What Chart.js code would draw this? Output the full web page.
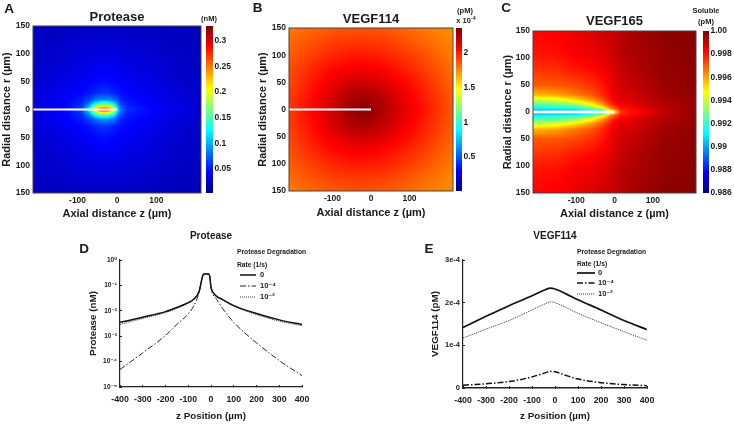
<!DOCTYPE html>
<html>
<head>
<meta charset="utf-8">
<script src="https://cdn.jsdelivr.net/npm/chart.js@4"></script>
<style>
  html, body { margin: 0; padding: 0; background: #fff; }
  body { width: 734px; height: 424px; position: relative; overflow: hidden; font-family: "Liberation Sans", sans-serif; filter: blur(0.35px); }
  canvas { position: absolute; }
  .lbl { position: absolute; font-weight: bold; color: #1a1a1a; white-space: nowrap; transform: translate(-50%, -50%); line-height: 1; }
  .lbl sup { font-size: 70%; line-height: 0; }
</style>
</head>
<body>
<script>
// ---- heat map grids (z across, |r| down) ----
const proteaseZ = [-215, -130, -90, -70, -55, -40, -25, -10, 0, 10, 25, 50, 90, 130, 215];
const proteaseR = [0, 4, 8, 12, 18, 30, 50, 90, 150];
const proteaseField = [
  [.032, .045, .065, .12, .24, .28, .28, .24, .13, .08, .06, .052, .045, .038, .028],
  [.032, .045, .062, .11, .195, .23, .23, .195, .115, .075, .057, .05, .044, .038, .028],
  [.032, .044, .058, .095, .15, .178, .178, .15, .10, .068, .054, .048, .043, .037, .028],
  [.032, .044, .055, .08, .115, .135, .135, .115, .085, .062, .052, .047, .042, .036, .028],
  [.032, .043, .052, .065, .08, .088, .088, .08, .07, .055, .048, .045, .04, .035, .028],
  [.03, .04, .045, .05, .055, .06, .06, .055, .05, .048, .045, .042, .038, .033, .026],
  [.028, .035, .04, .042, .045, .047, .047, .045, .044, .042, .04, .038, .035, .03, .025],
  [.025, .03, .033, .034, .035, .035, .035, .035, .035, .034, .033, .032, .03, .027, .024],
  [.022, .024, .025, .025, .025, .025, .025, .025, .025, .025, .025, .024, .024, .023, .021]
];

const vegf114Z = [-215, -150, -100, -50, -20, 20, 60, 100, 150, 215];
const vegf114R = [0, 25, 50, 75, 100, 125, 150];
const vegf114Field = [
  [1.93, 2.07, 2.18, 2.30, 2.34, 2.28, 2.18, 2.10, 2.00, 1.86],
  [1.92, 2.05, 2.16, 2.26, 2.28, 2.24, 2.16, 2.08, 1.98, 1.85],
  [1.90, 2.02, 2.11, 2.17, 2.18, 2.15, 2.10, 2.04, 1.95, 1.83],
  [1.88, 1.98, 2.05, 2.08, 2.09, 2.07, 2.03, 1.98, 1.91, 1.81],
  [1.85, 1.93, 1.98, 2.01, 2.01, 2.00, 1.97, 1.93, 1.87, 1.78],
  [1.82, 1.88, 1.92, 1.94, 1.94, 1.93, 1.91, 1.87, 1.82, 1.75],
  [1.78, 1.83, 1.86, 1.88, 1.88, 1.87, 1.85, 1.82, 1.78, 1.74]
];

const vegf165Z = [-215, -150, -100, -60, -30, -10, 0, 15, 40, 80, 130, 215];
const vegf165R = [0, 4, 8, 14, 22, 32, 50, 80, 110, 150];
const vegf165Field = [
  [.9885, .9885, .989, .9895, .9905, .9925, .9945, .9975, .998, .9985, .9992, .9997],
  [.9905, .9905, .9908, .9915, .9925, .9958, .9963, .9977, .998, .9985, .9992, .9997],
  [.9915, .9917, .992, .9932, .995, .9966, .9972, .998, .9983, .9988, .9993, .9997],
  [.9925, .9928, .9934, .9948, .9962, .9975, .998, .9983, .9985, .9989, .9993, .9997],
  [.9938, .9943, .9952, .9961, .9972, .998, .9984, .9986, .9987, .999, .9994, .9997],
  [.9957, .996, .9966, .9971, .9977, .9983, .9986, .9987, .9988, .9991, .9995, .9998],
  [.997, .9971, .9973, .9976, .998, .9984, .9987, .9988, .999, .9993, .9996, .9998],
  [.9976, .9977, .998, .9982, .9984, .9986, .9988, .999, .9992, .9994, .9997, .9998],
  [.998, .9981, .9984, .9985, .9987, .9989, .999, .9992, .9993, .9995, .9997, .9999],
  [.9982, .9983, .9985, .9987, .9989, .999, .9991, .9992, .9994, .9996, .9998, .9999]
];

const needleZ = [-213, 0];
const needleR = [0, 0];
const heatXTicks = [-100, 0, 100];
const heatYTicks = [-150, -100, -50, 0, 50, 100, 150];

const proteaseBar = [0.05, 0.1, 0.15, 0.2, 0.25, 0.3];
const vegf114Bar = [0.5, 1, 1.5, 2];
const vegf165Bar = [0.986, 0.988, 0.99, 0.992, 0.994, 0.996, 0.998, 1];
const vegf165BarLabels = ["0.986", "0.988", "0.99", "0.992", "0.994", "0.996", "0.998", "1.00"];

// ---- line plots ----
const legendNames = ["0", "10\u207B\u2074", "10\u207B\u00B2"];
const zTicks = [-400, -300, -200, -100, 0, 100, 200, 300, 400];

const proteaseLineZ = [-400, -300, -200, -150, -100, -75, -52, -46, -40, -35, -30, -10, -5, 0, 6, 25, 50, 100, 200, 300, 400];
const proteaseNone = [.0035, .0056, .0093, .0135, .021, .029, .059, .1, .18, .257, .28, .28, .21, .085, .059, .037, .028, .016, .0078, .0044, .0029];
const proteaseMid = [.0000490, .00022, .00107, .0029, .0076, .016, .054, .1, .18, .257, .28, .28, .21, .085, .05, .028, .0127, .0035, .00055, .00011, .000028];
const proteaseLow = [.0029, .005, .0085, .0125, .02, .028, .058, .1, .18, .257, .28, .28, .21, .085, .058, .036, .027, .0152, .0071, .0039, .0026];
const proteaseTicks = [1e-5, 1e-4, 1e-3, 1e-2, 1e-1, 1];
const proteaseTickLabels = ["10\u207B\u2075", "10\u207B\u2074", "10\u207B\u00B3", "10\u207B\u00B2", "10\u207B\u00B9", "10\u2070"];

const vegfLineZ = [-400, -300, -200, -100, -40, -20, 0, 50, 100, 200, 300, 400];
const vegfNone = [1.42e-4, 1.68e-4, 1.93e-4, 2.16e-4, 2.31e-4, 2.34e-4, 2.32e-4, 2.2e-4, 2.07e-4, 1.83e-4, 1.58e-4, 1.37e-4];
const vegfMid = [.065e-4, .1e-4, .15e-4, .26e-4, .36e-4, .39e-4, .38e-4, .29e-4, .21e-4, .125e-4, .08e-4, .055e-4];
const vegfLow = [1.17e-4, 1.38e-4, 1.58e-4, 1.83e-4, 1.98e-4, 2.02e-4, 2.0e-4, 1.88e-4, 1.75e-4, 1.53e-4, 1.32e-4, 1.12e-4];
const vegfTicks = [0, 1e-4, 2e-4, 3e-4];
const vegfTickLabels = ["0", "1e-4", "2e-4", "3e-4"];

// ---- helpers ----
const FONT = "'Liberation Sans', 'DejaVu Sans', sans-serif";
const INK = "#1a1a1a";
const zip = (xs, ys) => xs.map((x, i) => ({ x: x, y: ys[i] }));

function addCanvas(left, top, w, h) {
  const c = document.createElement("canvas");
  c.width = w; c.height = h;
  c.style.left = left + "px"; c.style.top = top + "px";
  document.body.appendChild(c);
  return c;
}

function addLabel(html, x, y, size) {
  const d = document.createElement("div");
  d.className = "lbl";
  d.innerHTML = html;
  d.style.left = x + "px"; d.style.top = y + "px"; d.style.fontSize = size + "px";
  document.body.appendChild(d);
}

function jet(t) {
  const c = v => Math.round(255 * Math.max(0, Math.min(1, v)));
  return [c(1.5 - Math.abs(4 * t - 3)), c(1.5 - Math.abs(4 * t - 2)), c(1.5 - Math.abs(4 * t - 1))];
}

function slot(grid, v) {
  let i = 0;
  while (i < grid.length - 2 && v > grid[i + 1]) i++;
  const f = (v - grid[i]) / (grid[i + 1] - grid[i]);
  return [i, Math.max(0, Math.min(1, f))];
}

// shading of the field, pixel by pixel, through the chart's own scales
const fieldPlugin = {
  id: "field",
  beforeDatasetsDraw(chart, args, o) {
    const a = chart.chartArea, x = chart.scales.x, y = chart.scales.y;
    const w = Math.round(a.right - a.left), h = Math.round(a.bottom - a.top);
    const img = chart.ctx.createImageData(w, h);
    for (let j = 0; j < h; j++) {
      const [ri, rf] = slot(o.r, Math.abs(y.getValueForPixel(a.top + j + 0.5)));
      for (let i = 0; i < w; i++) {
        const [zi, zf] = slot(o.z, x.getValueForPixel(a.left + i + 0.5));
        const v = (o.v[ri][zi] * (1 - zf) + o.v[ri][zi + 1] * zf) * (1 - rf) +
                  (o.v[ri + 1][zi] * (1 - zf) + o.v[ri + 1][zi + 1] * zf) * rf;
        const c = jet((v - o.min) / (o.max - o.min));
        const k = (j * w + i) * 4;
        img.data[k] = c[0]; img.data[k + 1] = c[1]; img.data[k + 2] = c[2]; img.data[k + 3] = 255;
      }
    }
    chart.ctx.putImageData(img, Math.round(a.left), Math.round(a.top));
  },
  afterDatasetsDraw(chart) {
    const a = chart.chartArea, ctx = chart.ctx;
    ctx.save();
    ctx.strokeStyle = "#444";
    ctx.lineWidth = 1;
    ctx.strokeRect(a.left, a.top, a.right - a.left, a.bottom - a.top);
    ctx.restore();
  }
};

const barPlugin = {
  id: "colorbar",
  beforeDatasetsDraw(chart) {
    const a = chart.chartArea, y = chart.scales.y, ctx = chart.ctx;
    for (let p = Math.round(a.top); p < a.bottom; p++) {
      const c = jet((y.getValueForPixel(p + 0.5) - y.min) / (y.max - y.min));
      ctx.fillStyle = "rgb(" + c.join(",") + ")";
      ctx.fillRect(a.left, p, a.right - a.left, 1);
    }
  }
};

// legend block of the line plots, built from the datasets
const notePlugin = {
  id: "note",
  afterDraw(chart, args, o) {
    const ctx = chart.ctx;
    ctx.save();
    ctx.fillStyle = INK;
    ctx.textBaseline = "middle";
    ctx.font = "bold 6.7px " + FONT;
    ctx.fillText("Protease Degradation", o.x, o.y0);
    ctx.fillText("Rate (1/s)", o.x, o.y1);
    ctx.font = "bold 7.5px " + FONT;
    chart.data.datasets.forEach((d, i) => {
      ctx.beginPath();
      ctx.setLineDash(d.borderDash || []);
      ctx.lineWidth = d.borderWidth;
      ctx.strokeStyle = d.borderColor;
      ctx.moveTo(o.lineX, o.ys[i]);
      ctx.lineTo(o.lineX + o.lineW, o.ys[i]);
      ctx.stroke();
      ctx.fillText(d.label, o.textX, o.ys[i]);
    });
    ctx.restore();
  }
};

function heatPanel(p) {
  const lh = p.titleSize * 1.2;
  return new Chart(addCanvas(p.left, 0, p.w, 222), {
    type: "line",
    data: { datasets: [{ data: zip(needleZ, needleR), borderColor: "#fff", borderWidth: p.needleWidth, pointRadius: 0 }] },
    options: {
      animation: false, responsive: false,
      layout: { padding: { right: p.w - p.ax1, bottom: 0 } },
      scales: {
        x: {
          type: "linear", min: -213, max: 213,
          afterFit: s => { s.height = 222 - p.ay1; },
          afterBuildTicks: s => { s.ticks = heatXTicks.map(v => ({ value: v })); },
          grid: { drawOnChartArea: false, drawTicks: false },
          border: { display: false },
          ticks: { autoSkip: false, maxRotation: 0, padding: 3, color: INK, font: { family: FONT, weight: "bold", size: 8.5 } },
          title: { display: true, text: "Axial distance z (\u00B5m)", color: INK, padding: { top: 0, bottom: p.xTitlePad }, font: { family: FONT, weight: "bold", size: 11 } }
        },
        y: {
          type: "linear", min: -150, max: 150,
          afterFit: s => { s.width = p.ax0; },
          afterBuildTicks: s => { s.ticks = heatYTicks.map(v => ({ value: v })); },
          grid: { drawOnChartArea: false, drawTicks: false },
          border: { display: false },
          ticks: { autoSkip: false, padding: 3, color: INK, font: { family: FONT, weight: "bold", size: 8.5 }, callback: v => String(Math.abs(v)) },
          title: { display: true, text: "Radial distance r (\u00B5m)", color: INK, padding: { top: p.yTitlePad, bottom: p.yTitlePad }, font: { family: FONT, weight: "bold", size: 11 } }
        }
      },
      plugins: {
        legend: { display: false }, tooltip: { enabled: false },
        title: {
          display: true, text: p.title, fullSize: false, color: INK,
          font: { family: FONT, weight: "bold", size: p.titleSize, lineHeight: 1.2 },
          padding: { top: p.titleY - lh / 2, bottom: p.ay0 - p.titleY - lh / 2 }
        },
        field: { z: p.z, r: p.r, v: p.v, min: p.min, max: p.max }
      }
    },
    plugins: [fieldPlugin]
  });
}

function barPanel(p) {
  return new Chart(addCanvas(p.left, 0, p.w, 222), {
    type: "line",
    data: { datasets: [] },
    options: {
      animation: false, responsive: false,
      layout: { padding: { top: p.y0, bottom: 222 - p.y1 } },
      scales: {
        x: { type: "linear", display: false },
        y: {
          type: "linear", position: "right", min: p.min, max: p.max,
          afterFit: s => { s.width = p.w - p.bw; },
          afterBuildTicks: s => { s.ticks = p.ticks.map(v => ({ value: v })); },
          grid: { drawOnChartArea: false, drawTicks: false },
          border: { display: false },
          ticks: { autoSkip: false, padding: 1.5, color: INK, font: { family: FONT, weight: "bold", size: 8.5 }, callback: (v, i) => p.labels[i] }
        }
      },
      plugins: { legend: { display: false }, tooltip: { enabled: false } }
    },
    plugins: [barPlugin]
  });
}

function linePanel(p) {
  const lh = 10 * 1.2;
  return new Chart(addCanvas(p.left, 222, 270, 202), {
    type: "line",
    data: { datasets: p.datasets },
    options: {
      animation: false, responsive: false,
      layout: { padding: { right: 270 - p.ax1 } },
      elements: { point: { radius: 0 }, line: { cubicInterpolationMode: "monotone" } },
      scales: {
        x: {
          type: "linear", min: -400, max: 400,
          afterFit: s => { s.height = 202 - p.ay1; },
          afterBuildTicks: s => { s.ticks = zTicks.map(v => ({ value: v })); },
          grid: { drawOnChartArea: false, tickLength: -2, tickColor: "#222", tickWidth: 1 },
          border: { color: "#222", width: p.xAxisWidth },
          ticks: { autoSkip: false, maxRotation: 0, padding: 9, color: INK, font: { family: FONT, weight: "bold", size: 8.8 } },
          title: { display: true, text: "z Position (\u00B5m)", color: INK, padding: { top: 0, bottom: 2 }, font: { family: FONT, weight: "bold", size: 9.8 } }
        },
        y: {
          type: p.yType, min: p.yMin, max: p.yMax,
          afterFit: s => { s.width = p.ax0; },
          afterBuildTicks: s => { s.ticks = p.yTicks.map(v => ({ value: v })); },
          grid: { drawOnChartArea: false, tickLength: -2, tickColor: "#222", tickWidth: 1 },
          border: { color: "#222", width: 1.2 },
          ticks: { autoSkip: false, padding: 5, color: INK, font: { family: FONT, weight: "bold", size: p.tickSize }, callback: (v, i) => p.yLabels[i] },
          title: { display: true, text: p.yTitle, color: INK, padding: { top: p.yTitlePad, bottom: p.yTitlePad }, font: { family: FONT, weight: "bold", size: 9.8 } }
        }
      },
      plugins: {
        legend: { display: false }, tooltip: { enabled: false },
        title: {
          display: true, text: p.title, fullSize: false, color: INK,
          font: { family: FONT, weight: "bold", size: 10, lineHeight: 1.2 },
          padding: { top: 14 - lh / 2, bottom: p.ay0 - 14 - lh / 2 }
        },
        note: p.note
      }
    },
    plugins: [notePlugin]
  });
}

// ---- panels ----
heatPanel({ left: 0, w: 205, ax0: 33, ax1: 201, ay0: 26, ay1: 193, title: "Protease", titleSize: 13, titleY: 17, needleWidth: 2, yTitlePad: 0, xTitlePad: 1,
  z: proteaseZ, r: proteaseR, v: proteaseField, min: 0.003, max: 0.329 });
barPanel({ left: 206, w: 30, bw: 7, y0: 26, y1: 193, min: 0.003, max: 0.329, ticks: proteaseBar, labels: proteaseBar.map(String) });

heatPanel({ left: 245, w: 210, ax0: 44, ax1: 208, ay0: 28, ay1: 191, title: "VEGF114", titleSize: 13, titleY: 19, needleWidth: 2, yTitlePad: 11, xTitlePad: 2,
  z: vegf114Z, r: vegf114R, v: vegf114Field, min: 0.01, max: 2.36 });
barPanel({ left: 456, w: 30, bw: 6, y0: 28, y1: 191, min: 0.01, max: 2.36, ticks: vegf114Bar, labels: vegf114Bar.map(String) });

heatPanel({ left: 490, w: 210, ax0: 43, ax1: 206, ay0: 31, ay1: 193, title: "VEGF165", titleSize: 13, titleY: 21, needleWidth: 3, yTitlePad: 11, xTitlePad: 1,
  z: vegf165Z, r: vegf165R, v: vegf165Field, min: 0.986, max: 1.0 });
barPanel({ left: 703, w: 31, bw: 6, y0: 31, y1: 193, min: 0.986, max: 1.0, ticks: vegf165Bar, labels: vegf165BarLabels });

linePanel({
  left: 70, ax0: 50, ax1: 232, ay0: 38, ay1: 165, title: "Protease", yTitle: "Protease (nM)", yTitlePad: 17,
  yType: "logarithmic", yMin: 1e-5, yMax: 1, yTicks: proteaseTicks, yLabels: proteaseTickLabels, tickSize: 6.5, xAxisWidth: 1.2,
  datasets: [
    { label: legendNames[0], data: zip(proteaseLineZ, proteaseNone), borderColor: "#111", borderWidth: 1.5 },
    { label: legendNames[1], data: zip(proteaseLineZ, proteaseMid), borderColor: "#222", borderWidth: 1, borderDash: [6, 2, 1.5, 2] },
    { label: legendNames[2], data: zip(proteaseLineZ, proteaseLow), borderColor: "#333", borderWidth: 1, borderDash: [1, 1] }
  ],
  note: { x: 167, y0: 30, y1: 43, lineX: 170, lineW: 16, textX: 190, ys: [53, 64, 75] }
});

linePanel({
  left: 410, ax0: 53, ax1: 237, ay0: 38, ay1: 166, title: "VEGF114", yTitle: "VEGF114 (pM)", yTitlePad: 19,
  yType: "linear", yMin: 0, yMax: 3e-4, yTicks: vegfTicks, yLabels: vegfTickLabels, tickSize: 7.5, xAxisWidth: 1.6,
  datasets: [
    { label: legendNames[0], data: zip(vegfLineZ, vegfNone), borderColor: "#111", borderWidth: 1.7 },
    { label: legendNames[1], data: zip(vegfLineZ, vegfMid), borderColor: "#111", borderWidth: 1.5, borderDash: [6, 2, 1.5, 2] },
    { label: legendNames[2], data: zip(vegfLineZ, vegfLow), borderColor: "#333", borderWidth: 1, borderDash: [1, 1] }
  ],
  note: { x: 167, y0: 30, y1: 42, lineX: 167, lineW: 18, textX: 188, ys: [51, 61, 72] }
});

// ---- panel letters and colour bar units ----
addLabel("A", 9, 9, 13.5);
addLabel("B", 257.5, 8, 13.5);
addLabel("C", 506, 8, 13.5);
addLabel("D", 84, 249, 13.5);
addLabel("E", 429, 249, 13.5);
addLabel("(nM)", 209, 19, 7.5);
addLabel("(pM)", 465, 11, 7.5);
addLabel("x 10<sup>-4</sup>", 466, 21, 7.5);
addLabel("Soluble", 706, 11, 7.5);
addLabel("(pM)", 706, 22, 7.5);
</script>
</body>
</html>
